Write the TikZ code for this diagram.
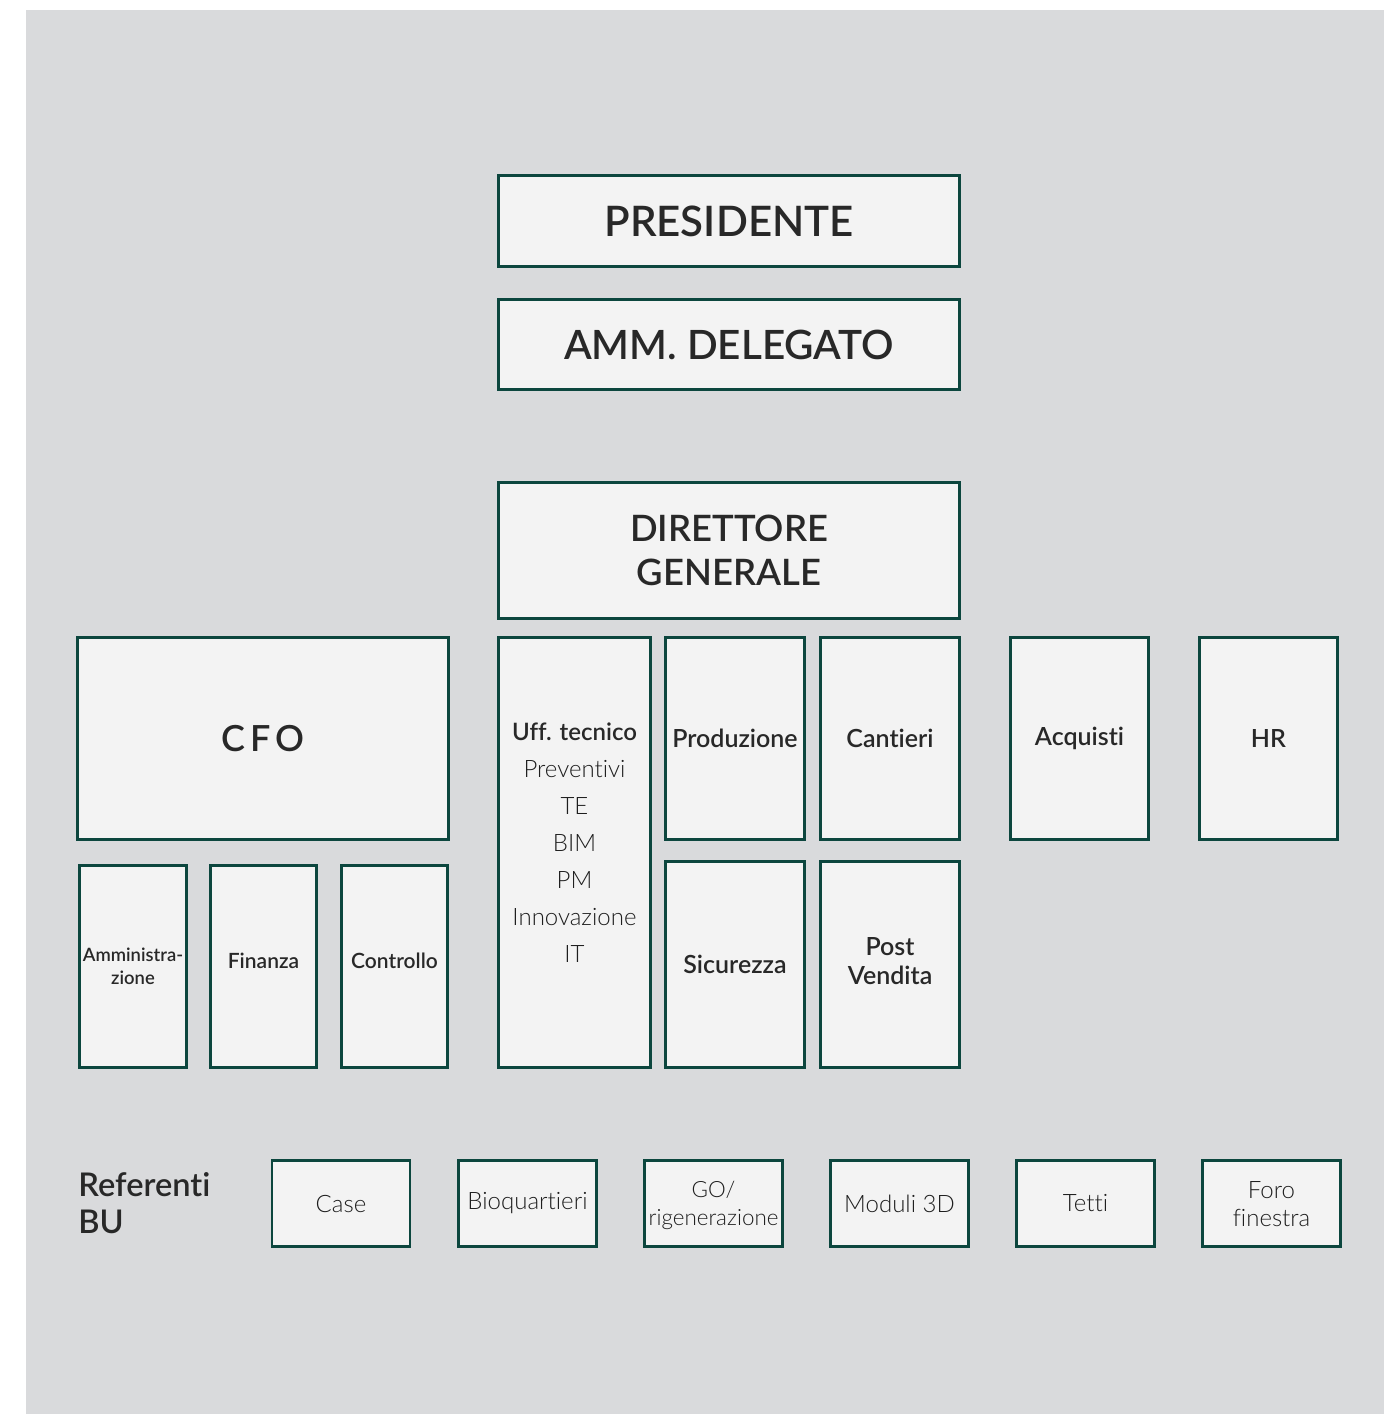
\documentclass[tikz,border=0pt]{standalone}
\usepackage{fontspec}
\defaultfontfeatures{Ligatures={NoCommon}}
\setmainfont{Lato}
\newfontfamily\semif{Lato Semibold}
\newfontfamily\semisp{Lato Semibold}[LetterSpace=14]
\newfontfamily\lightf{Lato Light}
\definecolor{bggray}{RGB}{217,218,220}
\definecolor{boxfill}{RGB}{243,243,243}
\definecolor{edge}{RGB}{12,70,62}
\definecolor{ink}{RGB}{40,40,40}
\definecolor{inklight}{RGB}{30,30,30}
\tikzset{
  box/.style={draw=edge, fill=boxfill, line width=1.4pt, inner sep=0pt, align=center, text=ink},
  big/.style={font=\semif\fontsize{21}{25}\selectfont},
  mid/.style={font=\semif\fontsize{12.5}{14.5}\selectfont},
  small/.style={font=\semif\fontsize{10.5}{12}\selectfont, text depth=6pt},
  tiny/.style={font=\semif\fontsize{9.2}{11.5}\selectfont},
  lite/.style={font=\lightf\fontsize{12}{14}\selectfont, text=inklight},
  bu/.style={box, lite, minimum width=69pt, minimum height=43pt},
  lbl/.style={inner sep=0pt, text=ink}
}
\begin{document}
\begin{tikzpicture}[x=0.5pt,y=-0.5pt]
\useasboundingbox (0,0) rectangle (1393,1414);
\fill[white] (0,0) rectangle (1393,1414);
\fill[bggray] (26,10) rectangle (1384,1414);

\node[box, big, minimum width=230.5pt, minimum height=45.5pt] (pres) at (729,221) {PRESIDENTE};
\node[box, font=\semif\fontsize{20.2}{25}\selectfont, minimum width=230.5pt, minimum height=45pt] (amm) at (729,344.5) {AMM. DELEGATO};
\node[box, font=\semif\fontsize{18.2}{22}\selectfont, minimum width=230.5pt, minimum height=68pt] (dg) at (729,550.5) {DIRETTORE\\GENERALE};

\node[box, font=\semisp\fontsize{18}{22}\selectfont, minimum width=185.5pt, minimum height=101pt] (cfo) at (263,738.5) {CFO};
\node[box, tiny, minimum width=53.5pt, minimum height=101pt] (ammin) at (133,966.5) {Amministra-\\zione};
\node[box, small, minimum width=53pt, minimum height=101pt] (fin) at (263.5,966.5) {Finanza};
\node[box, small, minimum width=53pt, minimum height=101pt] (ctrl) at (394.5,966.5) {Controllo};

\node[box, minimum width=76pt, minimum height=215pt] (uff) at (574.5,852.5) {};
\node[lbl, align=center, text=inklight, font=\lightf\fontsize{12}{18.5}\selectfont] (ufftxt) at (574.5,843) {{\semif\color{ink}Uff. tecnico}\\Preventivi\\TE\\BIM\\PM\\Innovazione\\IT};

\node[box, mid, minimum width=69.5pt, minimum height=101pt] (prod) at (735,738.5) {Produzione};
\node[box, mid, minimum width=69.5pt, minimum height=101pt] (cant) at (890,738.5) {Cantieri};
\node[box, mid, minimum width=69.5pt, minimum height=103pt] (sic) at (735,964.5) {Sicurezza};
\node[box, mid, minimum width=69.5pt, minimum height=103pt, text depth=4pt] (post) at (890,964.5) {Post\\Vendita};
\node[box, mid, minimum width=69pt, minimum height=101pt] (acq) at (1079.5,738.5) {Acquisti};
\node[box, mid, minimum width=69pt, minimum height=101pt] (hr) at (1268.5,738.5) {HR};

\node[lbl, anchor=west, align=left, font=\semif\fontsize{16.3}{18.5}\selectfont] (refbu) at (78,1203.5) {Referenti\\BU};
\node[bu] (case) at (341,1203.5) {Case};
\node[bu] (bio) at (527.5,1203.5) {Bioquartieri};
\node[bu, font=\lightf\fontsize{11.2}{14}\selectfont, text depth=0pt] (go) at (713.5,1203.5) {GO/\\rigenerazione};
\node[bu] (mod) at (899.5,1203.5) {Moduli 3D};
\node[bu] (tetti) at (1085.5,1203.5) {Tetti};
\node[bu, text depth=0pt] (foro) at (1271.5,1203.5) {Foro\\finestra};
\end{tikzpicture}
\end{document}
